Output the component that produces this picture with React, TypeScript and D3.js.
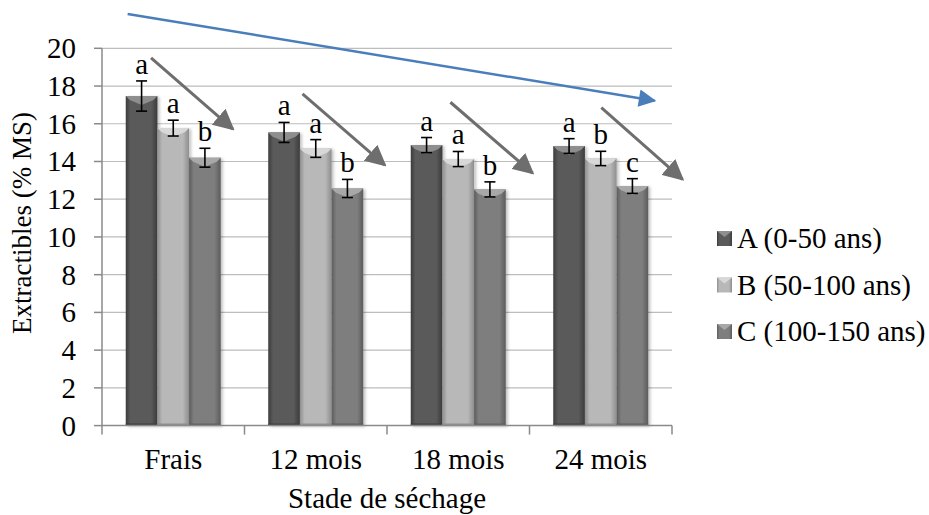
import React from "react";
import * as d3 from "d3";

const categories = ["Frais", "12 mois", "18 mois", "24 mois"];
const seriesNames = ["A (0-50 ans)", "B (50-100 ans)", "C (100-150 ans)"];
const valuesA = [17.47, 15.54, 14.87, 14.82];
const valuesB = [15.77, 14.69, 14.13, 14.16];
const valuesC = [14.2, 12.57, 12.52, 12.7];
const errA = [0.8, 0.53, 0.4, 0.39];
const errB = [0.42, 0.47, 0.4, 0.38];
const errC = [0.5, 0.48, 0.4, 0.39];
const lettersA = ["a", "a", "a", "a"];
const lettersB = ["a", "a", "a", "b"];
const lettersC = ["b", "b", "b", "c"];
const yTicks = [0, 2, 4, 6, 8, 10, 12, 14, 16, 18, 20];
// trend arrows in data space: [category index, fraction within band, value]
const grayArrowStarts = [[0, 0.344, 19.49], [1, 0.407, 17.58], [2, 0.445, 17.14], [3, 0.504, 16.85]];
const grayArrowEnds = [[0, 0.919, 15.72], [1, 0.985, 13.81], [2, 1.022, 13.38], [3, 1.074, 13.05]];
const blueArrow = [[0, 0.18, 21.82], [3, 0.878, 17.22]];

const W = 929, H = 515;
const plotL = 102, plotR = 672, plotT = 48.3, plotB = 425.6;
const FONT = "Liberation Serif, 'Times New Roman', serif";
const TS: React.CSSProperties = { fontFamily: FONT, fontSize: "29px" };
const TSY: React.CSSProperties = { fontFamily: FONT, fontSize: "27px" };

const palettes = [
  { edge: "#3c3c3c", mid: "#5a5a5a", top: "#8e8e8e" },
  { edge: "#8e8e8e", mid: "#b8b8b8", top: "#d8d8d8" },
  { edge: "#5c5c5c", mid: "#7e7e7e", top: "#a8a8a8" },
];

export default function App() {
  const x0 = d3.scaleBand<string>().domain(categories).range([plotL, plotR]).paddingInner(0).paddingOuter(0);
  const x1 = d3.scaleBand<string>().domain(seriesNames).range([0, x0.bandwidth()]).paddingInner(0).paddingOuter(0.75);
  const y = d3.scaleLinear().domain([0, 20]).range([plotB, plotT]);
  const vals = [valuesA, valuesB, valuesC];
  const errs = [errA, errB, errC];
  const letters = [lettersA, lettersB, lettersC];
  const bw = x1.bandwidth();
  const ax = (p: number[]) => (x0(categories[p[0]]) as number) + p[1] * x0.bandwidth();

  return (
    <svg width={W} height={H} style={{ position: "absolute", left: 0, top: 0, background: "#fff", fontFamily: FONT }}>
      <defs>
        {palettes.map((p, i) => (
          <linearGradient key={i} id={`g${i}`} x1="0" x2="1" y1="0" y2="0">
            <stop offset="0" stopColor={p.edge} />
            <stop offset="0.15" stopColor={p.mid} />
            <stop offset="0.8" stopColor={p.mid} />
            <stop offset="1" stopColor={p.edge} />
          </linearGradient>
        ))}
        <marker id="headGray" viewBox="0 0 10 10" refX="9" refY="5" markerWidth="7" markerHeight="7" markerUnits="strokeWidth" orient="auto">
          <path d="M0,0 L10,5 L0,10 z" fill="#6e6e6e" />
        </marker>
        <marker id="headBlue" viewBox="0 0 10 10" refX="9" refY="5" markerWidth="8" markerHeight="7" markerUnits="strokeWidth" orient="auto">
          <path d="M0,0 L10,5 L0,10 z" fill="#4a7ebb" />
        </marker>
        <filter id="shadow" x="-20%" y="-5%" width="150%" height="110%">
          <feDropShadow dx="2" dy="1" stdDeviation="1.5" floodColor="#000" floodOpacity="0.25" />
        </filter>
      </defs>

      {/* gridlines */}
      {yTicks.slice(1).map((t) => (
        <line key={t} x1={plotL} x2={plotR} y1={y(t)} y2={y(t)} stroke="#bdbdbd" strokeWidth={1.2} />
      ))}

      {/* bars */}
      {categories.map((c, ci) => (
        <g key={c} transform={`translate(${x0(c)},0)`}>
          {seriesNames.map((s, si) => {
            const v = vals[si][ci];
            const bx = x1(s) as number;
            const top = y(v);
            return (
              <g key={s}>
                <rect x={bx} y={top} width={bw} height={plotB - top} fill={`url(#g${si})`} filter="url(#shadow)" />
                <path d={`M${bx},${top} L${bx + bw},${top} L${bx + bw - 4},${top + 4} L${bx + bw / 2},${top + 9} L${bx + 4},${top + 4} Z`} fill={palettes[si].top} />
                <line x1={bx} x2={bx + bw} y1={plotB - 1} y2={plotB - 1} stroke={palettes[si].edge} strokeWidth={2} />
              </g>
            );
          })}
        </g>
      ))}

      {/* axes */}
      <line x1={plotL} x2={plotL} y1={plotT} y2={plotB} stroke="#8a8a8a" strokeWidth={1.5} />
      <line x1={plotL} x2={plotR} y1={plotB} y2={plotB} stroke="#8a8a8a" strokeWidth={1.5} />
      {yTicks.map((t) => (
        <g key={t}>
          <line x1={plotL - 8} x2={plotL} y1={y(t)} y2={y(t)} stroke="#8a8a8a" strokeWidth={1.5} />
          <text x={76} y={y(t) + 10} textAnchor="end" style={TS} fill="#000">{t}</text>
        </g>
      ))}
      {[...categories.map((c) => x0(c) as number), plotR].map((xv, i) => (
        <line key={i} x1={xv} x2={xv} y1={plotB} y2={plotB + 9} stroke="#8a8a8a" strokeWidth={1.5} />
      ))}
      {categories.map((c) => (
        <text key={c} x={(x0(c) as number) + x0.bandwidth() / 2} y={469} textAnchor="middle" style={TS} fill="#000">{c}</text>
      ))}
      <text x={(plotL + plotR) / 2} y={508} textAnchor="middle" style={TS} fill="#000">Stade de séchage</text>
      <text transform={`translate(31,${(plotT + plotB) / 2 - 14}) rotate(-90)`} textAnchor="middle" style={TSY} fill="#000">Extractibles (% MS)</text>

      {/* error bars and letters */}
      {categories.map((c, ci) => (
        <g key={c} transform={`translate(${x0(c)},0)`}>
          {seriesNames.map((s, si) => {
            const v = vals[si][ci], e = errs[si][ci];
            const cx = (x1(s) as number) + bw / 2;
            const y1v = y(v + e), y2v = y(v - e);
            return (
              <g key={s}>
                <line x1={cx} x2={cx} y1={y1v} y2={y2v} stroke="#000" strokeWidth={1.6} />
                <line x1={cx - 5.5} x2={cx + 5.5} y1={y1v} y2={y1v} stroke="#000" strokeWidth={1.6} />
                <line x1={cx - 5.5} x2={cx + 5.5} y1={y2v} y2={y2v} stroke="#000" strokeWidth={1.6} />
                <text x={cx} y={y1v - 7} textAnchor="middle" style={TS} fill="#000">{letters[si][ci]}</text>
              </g>
            );
          })}
        </g>
      ))}

      {/* trend arrows */}
      {grayArrowStarts.map((p, i) => (
        <line key={i} x1={ax(p)} y1={y(p[2])} x2={ax(grayArrowEnds[i])} y2={y(grayArrowEnds[i][2])} stroke="#6e6e6e" strokeWidth={3} markerEnd="url(#headGray)" />
      ))}
      <line x1={ax(blueArrow[0])} y1={y(blueArrow[0][2])} x2={ax(blueArrow[1])} y2={y(blueArrow[1][2])} stroke="#4a7ebb" strokeWidth={2.5} markerEnd="url(#headBlue)" />

      {/* legend */}
      {seriesNames.map((s, si) => {
        const ly = 248 + si * 46.5;
        return (
          <g key={s}>
            <rect x={717} y={ly - 17} width={15} height={15} fill={`url(#g${si})`} />
            <path d={`M717,${ly - 17} L732,${ly - 17} L724.5,${ly - 11} Z`} fill={palettes[si].top} />
            <text x={737} y={ly} style={TS} fill="#000">{s}</text>
          </g>
        );
      })}
    </svg>
  );
}
